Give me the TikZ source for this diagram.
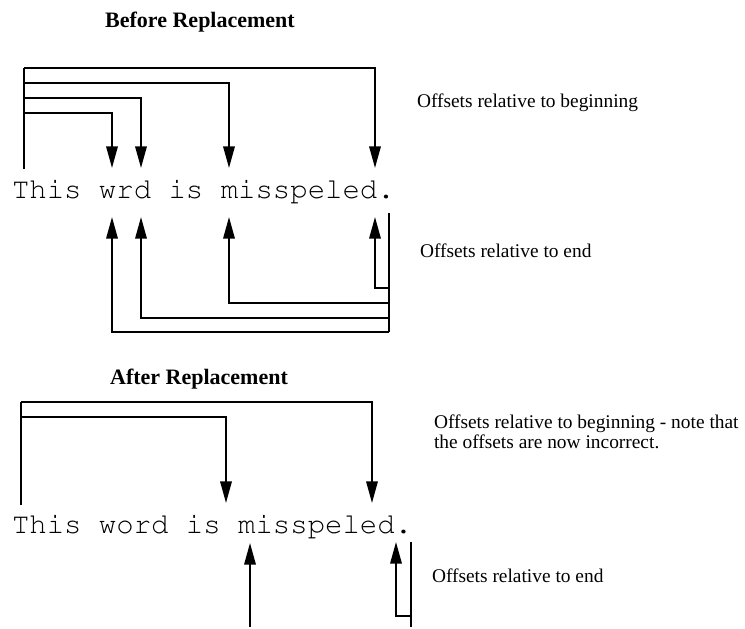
\documentclass[tikz,border=0pt]{standalone}
\usepackage[T1]{fontenc}
\usepackage{fontspec}
\setmainfont{Liberation Serif}
\usetikzlibrary{arrows.meta}
\newcommand{\codefont}{\fontencoding{T1}\fontfamily{pcr}\fontsize{14.5}{17}\selectfont}
\tikzset{
  >={Triangle[length=10.8pt,width=5.7pt]},
  code/.style={font=\codefont,inner sep=0pt,anchor=base west},
  heading/.style={font=\bfseries\fontsize{11}{13}\selectfont,inner sep=0pt,anchor=base},
  note/.style={font=\fontsize{9.7}{7.5}\selectfont,inner sep=0pt,anchor=base west,align=left}
}
\begin{document}
\begin{tikzpicture}[x=0.5pt,y=-0.5pt,line width=1pt]
\useasboundingbox (0,0) rectangle (745,628);

\node[heading] (before) at(200,27) {Before Replacement};
\node[code] (old) at(11,198) {This wrd is misspeled.};
\node[note] (oldbeg) at(416,107) {Offsets relative to beginning};
\node[note] (oldend) at(419,257) {Offsets relative to end};

\coordinate (oldfoot) at(24,169);
\coordinate (oldhead) at(24,68);
\draw (oldfoot) -- (oldhead);
\foreach \x/\y [count=\i] in {112/113,141/98,229/83,375/68} {
  \coordinate (obeg\i) at(24,\y);
  \coordinate (otop\i) at(\x,168);
  \draw[->] (obeg\i) -| (otop\i);
}
\coordinate (oldrail) at(389,213);
\coordinate (oldlow) at(389,332);
\draw (oldrail) -- (oldlow);
\foreach \x/\y [count=\i] in {375/288,229/303,141/318,112/332} {
  \coordinate (oend\i) at(389,\y);
  \coordinate (obot\i) at(\x,217);
  \draw[->] (oend\i) -| (obot\i);
}

\node[heading] (after) at(199,384) {After Replacement};
\node[code] (new) at(11,533) {This word is misspeled.};
\node[note,anchor=north west] (newbeg) at(433,414)
  {Offsets relative to beginning - note that\\the offsets are now incorrect.};
\node[note] (newend) at(431,582) {Offsets relative to end};

\coordinate (newfoot) at(21,505);
\coordinate (newhead) at(21,402);
\draw (newfoot) -- (newhead);
\foreach \x/\y [count=\i] in {226/417,372/402} {
  \coordinate (nbeg\i) at(21,\y);
  \coordinate (ntop\i) at(\x,503);
  \draw[->] (nbeg\i) -| (ntop\i);
}
\coordinate (nlow) at(250,627);
\coordinate (nbot1) at(250,543);
\draw[->] (nlow) -- (nbot1);
\coordinate (newrail) at(411,542);
\coordinate (newlow) at(411,627);
\draw (newrail) -- (newlow);
\coordinate (nend2) at(411,616);
\coordinate (nbot2) at(396,542);
\draw[->] (nend2) -| (nbot2);
\end{tikzpicture}
\end{document}
